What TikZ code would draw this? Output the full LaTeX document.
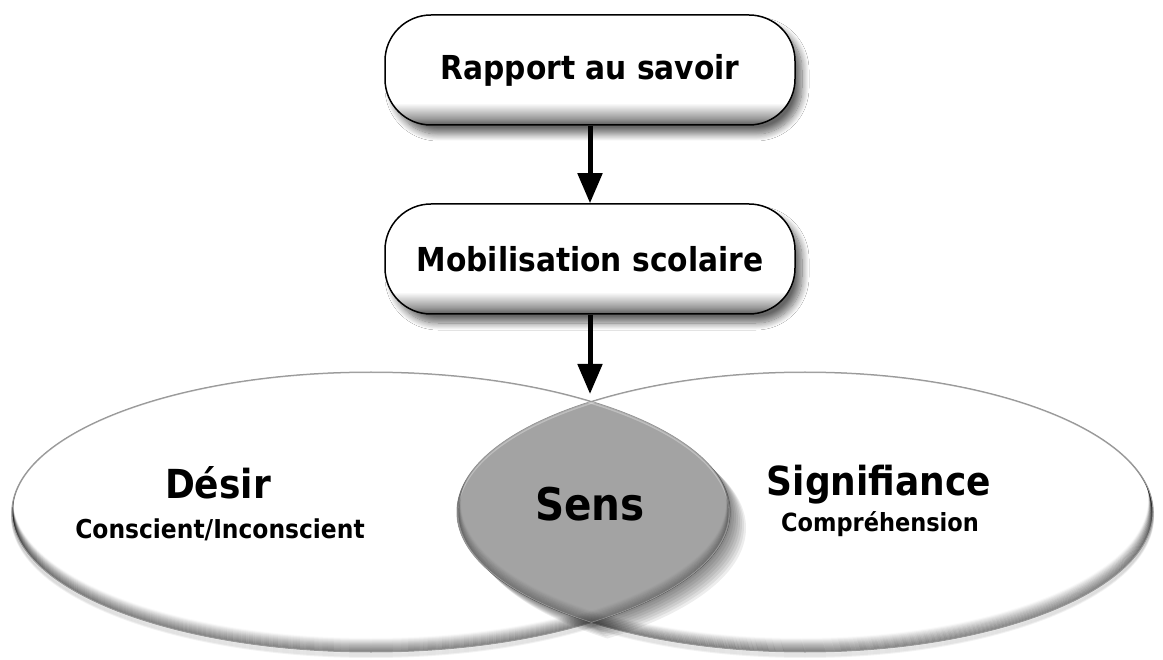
\documentclass[tikz,border=0pt]{standalone}
\usepackage{fontspec}
\setmainfont{DejaVu Sans Condensed}
\usepackage{tikz}
\usetikzlibrary{arrows.meta,shadows.blur}
\pgfdeclareverticalshading{boxbevel}{100bp}{color(0bp)=(black!65); color(25bp)=(black!65); color(28bp)=(black!40); color(35bp)=(white); color(100bp)=(white)}
\tikzstyle{stage}=[draw=black,line width=1.5pt,rounded corners=46pt,
minimum width=410pt,minimum height=110pt,shade,shading=boxbevel,
blur shadow={shadow xshift=7pt,shadow yshift=-9pt,shadow opacity=60,shadow blur radius=7pt,shadow blur steps=12},
font=\bfseries\fontsize{33}{40}\selectfont]
\tikzstyle{flow}=[-{Triangle[width=24pt,length=30pt]},line width=5pt]
\tikzstyle{oval}=[draw=black!40,line width=1pt]
\tikzstyle{big}=[font=\bfseries\fontsize{40}{48}\selectfont,anchor=base]
\tikzstyle{small}=[font=\bfseries\fontsize{26}{32}\selectfont,anchor=base]

\begin{document}
\begin{tikzpicture}[x=1pt,y=-1pt]

	\useasboundingbox [fill=white] (0,0) rectangle (1163,660);

	\coordinate (cl) at (371,512);
	\coordinate (cr) at (805,512);
	\coordinate (meet) at (590,394);

	% soft edge under the ovals
	\foreach \s in {1,...,5} {
		\draw [black,opacity=0.05,line width=2pt] (371,512+\s) ellipse [x radius=359, y radius=140];
		\draw [black,opacity=0.05,line width=2pt] (805,512+\s) ellipse [x radius=348, y radius=140];
	}

	% left oval
	\fill [white] (cl) ellipse [x radius=359, y radius=140];
	\begin{scope}
		\clip (cl) ellipse [x radius=359, y radius=140];
		\foreach \s in {0,...,13}
			\draw [black,opacity={0.28*(1-\s/14)},line width=2pt] (371,512-\s) ellipse [x radius=359, y radius=140];
	\end{scope}
	% right oval
	\fill [white] (cr) ellipse [x radius=348, y radius=140];
	\begin{scope}
		\clip (cr) ellipse [x radius=348, y radius=140];
		\foreach \s in {0,...,13}
			\draw [black,opacity={0.28*(1-\s/14)},line width=2pt] (805-\s*0.3,512-\s) ellipse [x radius=348, y radius=140];
	\end{scope}
	\draw [oval] (cl) ellipse [x radius=359, y radius=140];
	\draw [oval] (cr) ellipse [x radius=348, y radius=140];

	% shadow of the lens
	\foreach \s in {2,4,...,16} {
		\begin{scope}
			\clip (371+\s,512+\s) ellipse [x radius=359, y radius=140];
			\fill [black,opacity=0.07] (805+\s,512+\s) ellipse [x radius=348, y radius=140];
		\end{scope}
	}
	% the lens
	\begin{scope}
		\clip (cl) ellipse [x radius=359, y radius=140];
		\clip (cr) ellipse [x radius=348, y radius=140];
		\fill [black!36] (cr) ellipse [x radius=348, y radius=140];
		\foreach \s in {0,...,10} {
			\draw [black,opacity={0.16*(1-\s/11)},line width=2pt] (371-\s*0.3,512-\s) ellipse [x radius=359, y radius=140];
			\draw [black,opacity={0.16*(1-\s/11)},line width=2pt] (805+\s*0.3,512-\s) ellipse [x radius=348, y radius=140];
		}
		\draw [white,opacity=0.3,line width=3pt] (371,512+1) ellipse [x radius=359, y radius=140];
		\draw [white,opacity=0.3,line width=3pt] (805,512+1) ellipse [x radius=348, y radius=140];
	\end{scope}

	\node (desir) at (218,498) [big] {Désir};
	\node (consc) at (220,538) [small] {Conscient/Inconscient};
	\node (sens) at (590,520) [big,font=\bfseries\fontsize{45}{54}\selectfont] {Sens};
	\node (signif) at (879,496) [big] {Signifiance};
	\node (compr) at (880,531) [small,font=\bfseries\fontsize{25}{30}\selectfont] {Compréhension};

	% the two steps
	\node (rapport) at (590,70) [stage] {Rapport au savoir};
	\node (mobil) at (590,259) [stage] {Mobilisation scolaire};

	\draw [flow] (rapport) to (mobil);
	\draw [flow] (mobil) to (meet);

\end{tikzpicture}
\end{document}
